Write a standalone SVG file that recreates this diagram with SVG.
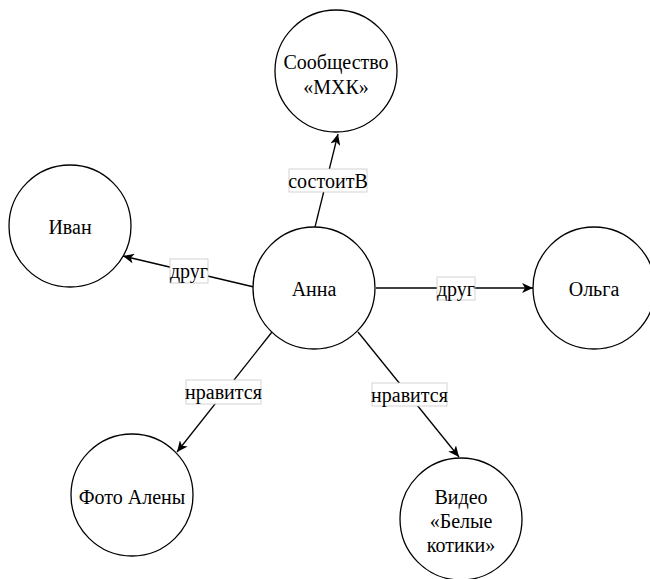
<svg xmlns="http://www.w3.org/2000/svg" width="650" height="579" viewBox="0 0 650 579">
<style>
.node circle{fill:#fff;stroke:#000;stroke-width:1.3}
text{font-family:"Liberation Serif","Times New Roman","DejaVu Serif",serif;font-size:20px;fill:#000;text-anchor:middle;dominant-baseline:central}
.edge line{stroke:#000;stroke-width:1.3}
.lbl rect{fill:#fff;stroke:#c8c8c8;stroke-width:0.8}
</style>
<defs>
<marker id="arr" markerUnits="userSpaceOnUse" markerWidth="12" markerHeight="10" refX="11" refY="5" orient="auto" viewBox="0 0 12 10">
<path d="M0,0 L11,5 L0,10 L3,5 z" fill="#000"/>
</marker>
</defs>
<rect width="650" height="579" fill="#fff"/>
<g id="connectors" class="edge">
<line x1="315" y1="227" x2="338" y2="134" marker-end="url(#arr)"/>
<line x1="254" y1="287" x2="123" y2="256" marker-end="url(#arr)"/>
<line x1="376" y1="288" x2="533" y2="288" marker-end="url(#arr)"/>
<line x1="272" y1="332" x2="177" y2="452" marker-end="url(#arr)"/>
<line x1="358" y1="332" x2="459" y2="457" marker-end="url(#arr)"/>
<g class="lbl">
<rect x="289" y="169" width="78" height="23"/><text x="328" y="181">состоитВ</text>
<rect x="170" y="259" width="38" height="24"/><text x="189" y="271">друг</text>
<rect x="437" y="277" width="38" height="23"/><text x="456" y="289">друг</text>
<rect x="186" y="380" width="75" height="24"/><text x="223.5" y="392">нравится</text>
<rect x="372" y="383" width="75" height="23"/><text x="409.5" y="395">нравится</text>
</g>
</g>
<g id="n-soobshchestvo" class="node"><circle cx="336" cy="71" r="61"/><text x="336" y="62">Сообщество</text><text x="336" y="87">«МХК»</text></g>
<g id="n-ivan" class="node"><circle cx="70" cy="226" r="61"/><text x="70" y="227">Иван</text></g>
<g id="n-anna" class="node"><circle cx="314" cy="288" r="61"/><text x="314" y="289">Анна</text></g>
<g id="n-olga" class="node"><circle cx="594" cy="288" r="61"/><text x="594" y="289">Ольга</text></g>
<g id="n-foto" class="node"><circle cx="132" cy="495" r="61"/><text x="132" y="497">Фото Алены</text></g>
<g id="n-video" class="node"><circle cx="461" cy="519" r="61"/><text x="461" y="497">Видео</text><text x="461" y="521">«Белые</text><text x="461" y="545">котики»</text></g>
</svg>
